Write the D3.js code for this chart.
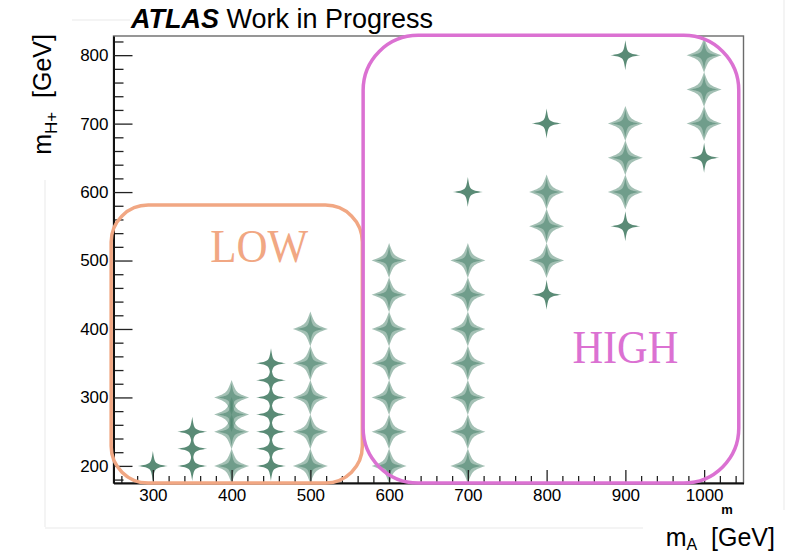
<!DOCTYPE html>
<html>
<head>
<meta charset="utf-8">
<script src="https://cdn.jsdelivr.net/npm/d3@7"></script>
<style>
  body { margin: 0; background: #fff; }
  svg { display: block; }
  text { font-family: "Liberation Sans", Arial, Helvetica, sans-serif; }
</style>
</head>
<body>
<svg id="chart"></svg>
<script>
// mass points of the signal grid (GeV)
var massA = [300, 350, 400, 450, 500, 600, 700, 800, 900, 1000];
var massHp = [
    [200],
    [200, 225, 250],
    [200, 250, 275, 300],
    [200, 225, 250, 275, 300, 325, 350],
    [200, 250, 300, 350, 400],
    [200, 250, 300, 350, 400, 450, 500],
    [200, 250, 300, 350, 400, 450, 500, 600],
    [450, 500, 550, 600, 700],
    [550, 600, 650, 700, 800],
    [650, 700, 750, 800]
];
// number of overlapping samples at each mass point
var nSamples = [
    [1],
    [1, 1, 1],
    [2, 2, 2, 2],
    [1, 1, 1, 1, 1, 1, 1],
    [2, 2, 2, 2, 2],
    [2, 2, 2, 2, 2, 2, 2],
    [2, 2, 2, 2, 2, 2, 2, 1],
    [1, 2, 2, 2, 1],
    [1, 2, 2, 2, 1],
    [1, 2, 2, 2]
];

var xTicks = [300, 400, 500, 600, 700, 800, 900, 1000];
var yTicks = [200, 300, 400, 500, 600, 700, 800];

// LOW / HIGH mass regions (data units)
var regionNames = ["LOW", "HIGH"];
var regionX = [[247, 566], [567, 1044]];
var regionY = [[175, 581], [175, 829]];
var regionLabel = [[435, 498], [900, 350]];
var regionColors = ["#f1a783", "#db71d2"];

var width = 792,
    height = 555;

var svg = d3.select("#chart")
    .attr("width", width)
    .attr("height", height);

var x = d3.scaleLinear().domain([250, 1050]).range([113.5, 743.5]);
var y = d3.scaleLinear().domain([175, 828]).range([483, 36]);

// faint slide artefacts around the figure
var faint = svg.append("g").attr("stroke", "#e9e9e9").attr("stroke-width", 1);
faint.append("line").attr("x1", 45).attr("x2", 45).attr("y1", 180).attr("y2", 527);
faint.append("line").attr("x1", 45).attr("x2", 643).attr("y1", 528).attr("y2", 528);
faint.append("line").attr("x1", 784).attr("x2", 784).attr("y1", 0).attr("y2", 510);
faint.append("line").attr("x1", 72).attr("x2", 130).attr("y1", 20).attr("y2", 20);

// frame (top/right)
svg.append("rect")
    .attr("x", x.range()[0]).attr("y", y.range()[1])
    .attr("width", x.range()[1] - x.range()[0])
    .attr("height", y.range()[0] - y.range()[1])
    .attr("fill", "none")
    .attr("stroke", "#6b6b6b")
    .attr("stroke-width", 1.4);

// 4-point star marker, c sets how pinched the arms are
function starPath(r, c) {
    var q = function(px, py, ex, ey) {
        return "C" + px + "," + py + " " + px + "," + py + " " + ex + "," + ey;
    };
    return "M0," + (-r) +
        q(c, -c, r, 0) +
        q(c, c, 0, r) +
        q(-c, c, -r, 0) +
        q(-c, -c, 0, -r) + "Z";
}

var points = [];
massA.forEach(function(ma, i) {
    massHp[i].forEach(function(mh, j) {
        points.push({mA: ma, mHp: mh, n: nSamples[i][j]});
    });
});

var marks = svg.append("g");
points.forEach(function(d) {
    var g = marks.append("g")
        .attr("transform", "translate(" + x(d.mA) + "," + y(d.mHp) + ")");
    if (d.n > 1) {
        g.append("path").attr("d", starPath(17.5, 4.6))
            .attr("fill", "#4e8670").attr("fill-opacity", 0.52);
        g.append("path").attr("d", starPath(14, 2.1))
            .attr("fill", "#4e8670").attr("fill-opacity", 0.6);
    } else {
        g.append("path").attr("d", starPath(15, 1.9))
            .attr("fill", "#5a8b76");
    }
});

// axes, ROOT style ticks pointing inwards
var xMinor = d3.range(260, 1050, 20).filter(function(v) { return xTicks.indexOf(v) < 0; });
var yMinor = d3.range(180, 828, 20).filter(function(v) { return yTicks.indexOf(v) < 0; });

svg.append("g")
    .attr("transform", "translate(0," + y.range()[0] + ")")
    .call(d3.axisBottom(x).tickValues(xMinor).tickSize(-7).tickSizeOuter(0).tickFormat(""))
    .call(function(g) { g.select(".domain").remove(); });
var xAxis = svg.append("g")
    .attr("transform", "translate(0," + y.range()[0] + ")")
    .call(d3.axisBottom(x).tickValues(xTicks).tickSize(-13).tickSizeOuter(0)
        .tickPadding(6).tickFormat(d3.format("d")));

svg.append("g")
    .attr("transform", "translate(" + x.range()[0] + ",0)")
    .call(d3.axisLeft(y).tickValues(yMinor).tickSize(-10).tickSizeOuter(0).tickFormat(""))
    .call(function(g) { g.select(".domain").remove(); });
var yAxis = svg.append("g")
    .attr("transform", "translate(" + x.range()[0] + ",0)")
    .call(d3.axisLeft(y).tickValues(yTicks).tickSize(-19).tickSizeOuter(0)
        .tickPadding(5).tickFormat(d3.format("d")));

svg.selectAll(".tick line").attr("stroke", "#222").attr("stroke-width", 1.3);
[xAxis, yAxis].forEach(function(a) {
    a.select(".domain").attr("stroke", "#111").attr("stroke-width", 2);
    a.selectAll("text")
        .attr("fill", "#000")
        .style("font-family", "'Liberation Sans', Arial, sans-serif")
        .style("font-size", "17px");
});

// region boxes
regionNames.forEach(function(name, i) {
    var rx = i == 0 ? 37 : 55;
    svg.append("rect")
        .attr("x", x(regionX[i][0]))
        .attr("y", y(regionY[i][1]))
        .attr("width", x(regionX[i][1]) - x(regionX[i][0]))
        .attr("height", y(regionY[i][0]) - y(regionY[i][1]))
        .attr("rx", rx).attr("ry", rx)
        .attr("fill", "none")
        .attr("stroke", regionColors[i])
        .attr("stroke-width", 3.5);
    svg.append("text")
        .attr("x", x(regionLabel[i][0]))
        .attr("y", y(regionLabel[i][1]))
        .attr("text-anchor", "middle")
        .attr("textLength", i == 0 ? 98 : 106)
        .attr("lengthAdjust", "spacingAndGlyphs")
        .style("font-family", "'Liberation Serif', 'DejaVu Serif', serif")
        .style("font-size", "47px")
        .attr("fill", regionColors[i])
        .text(name);
});

// title
var title = svg.append("text")
    .attr("x", 131).attr("y", 28)
    .style("font-size", "27px")
    .attr("fill", "#000");
title.append("tspan").style("font-weight", "bold").style("font-style", "italic").text("ATLAS");
title.append("tspan").text(" Work in Progress");

// axis titles
var xt = svg.append("text")
    .attr("x", 775).attr("y", 546)
    .attr("text-anchor", "end")
    .style("font-size", "25px")
    .attr("fill", "#000");
xt.append("tspan").text("m");
xt.append("tspan").attr("dy", 4).style("font-size", "16px").text("A");
xt.append("tspan").attr("dy", -4).text("\u00a0\u00a0[GeV]");

var yt = svg.append("text")
    .attr("transform", "translate(51,34) rotate(-90)")
    .attr("text-anchor", "end")
    .style("font-size", "25px")
    .attr("fill", "#000");
yt.append("tspan").text("m");
yt.append("tspan").attr("dy", 6).style("font-size", "17px").text("H+");
yt.append("tspan").attr("dy", -6).text("\u00a0\u00a0[GeV]");

// clipped leftover label under the axis
svg.append("text")
    .attr("x", 727).attr("y", 514)
    .attr("text-anchor", "middle")
    .style("font-size", "13px")
    .style("font-weight", "bold")
    .attr("fill", "#000")
    .text("m");
</script>
</body>
</html>
